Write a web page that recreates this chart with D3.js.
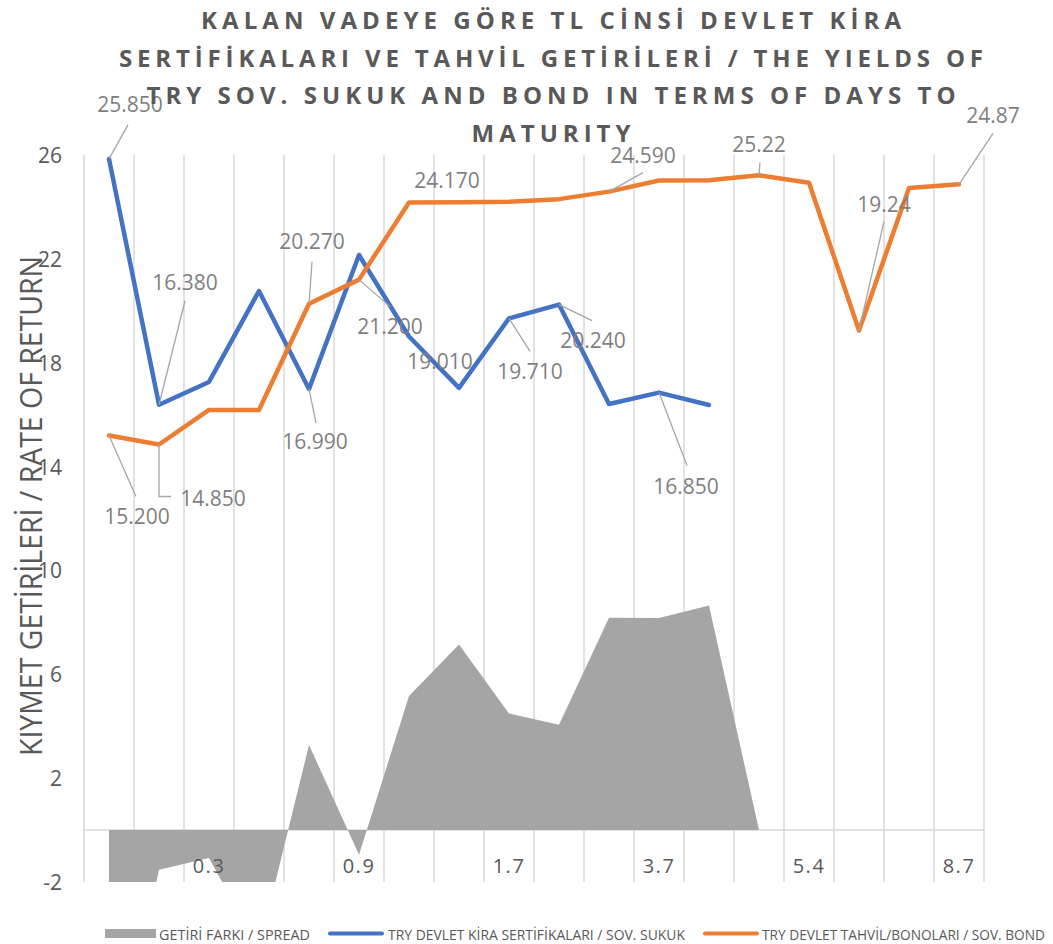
<!DOCTYPE html>
<html><head><meta charset="utf-8">
<script src="https://cdn.jsdelivr.net/npm/d3@7"></script>
<style>body{margin:0;background:#fff} svg{display:block;font-family:"Open Sans","Noto Sans",sans-serif}</style>
</head><body><svg id="c" width="1053" height="944"></svg>
<script>
// ---------- data ----------
const categories = ["0.1","0.2","0.3","0.4","0.6","0.9","1.1","1.4","1.7","2.3","2.9","3.7","4.1","4.8","5.4","6.5","7.6","8.7"];
const sukuk = [25.85,16.38,17.26,20.76,16.99,22.15,19.01,17.03,19.71,20.24,16.41,16.85,16.37,null,null,null,null,null];
const bond = [15.20,14.85,16.18,16.18,20.27,21.20,24.17,24.18,24.20,24.30,24.59,25.02,25.03,25.22,24.93,19.24,24.73,24.87];
const spread = [-10.65,-1.53,-1.08,-4.58,3.28,-0.95,5.16,7.15,4.49,4.06,8.18,8.17,8.65,0];
const yTicks = [-2,2,6,10,14,18,22,26];
const titleLines = ["KALAN VADEYE GÖRE TL CİNSİ DEVLET KİRA","SERTİFİKALARI VE TAHVİL GETİRİLERİ / THE YIELDS OF","TRY SOV. SUKUK AND BOND IN TERMS OF DAYS TO","MATURITY"];
const yTitle = "KIYMET GETİRİLERİ / RATE OF RETURN";
const legendLabels = ["GETİRİ FARKI / SPREAD","TRY DEVLET KİRA SERTİFİKALARI / SOV. SUKUK","TRY DEVLET TAHVİL/BONOLARI / SOV. BOND"];
// which points carry data labels (index, decimals)
const sukukLabelIdx = [0,1,4,6,8,9,11];
const sukukLabelDec = [3,3,3,3,3,3,3];
const bondLabelIdx = [0,1,4,5,6,10,13,15,17];
const bondLabelDec = [3,3,3,3,3,3,2,2,2];

// ---------- layout / style ----------
const plot={l:84,r:984,t:155,b:882};
const colors={sukuk:"#4472C4",bond:"#ED7D31",spread:"#A5A5A5",grid:"#D9D9D9",text:"#595959",label:"#7F7F7F",leader:"#A6A6A6"};
// label offsets relative to point: [dx,dy (label center), leader end dx,dy, elbow?]
const sukukLabelPos = [[21,-54,19,-34],[26,-122,26,-104],[6,53,7,34],[31,25,null,null],[21,53,21,33],[34,36,33,16],[27,94,28,73]];
const bondLabelPos = [[28,81,27,61],[54,54,12,52,"elbow"],[3,-62,3,-42],[31,47,31,27],[38,-22,null,null],[34,-36,34,-19],[0,-31,1,-13],[25,-126,25,-109],[34,-69,34,-51]];

const svg=d3.select("#c");
const x=d3.scaleBand().domain(d3.range(categories.length)).range([plot.l,plot.r]).padding(0);
const cx=i=>x(i)+x.bandwidth()/2;
const y=d3.scaleLinear().domain([-2,26]).range([plot.b,plot.t]);

svg.append("defs").append("clipPath").attr("id","clip").append("rect")
  .attr("x",plot.l).attr("y",plot.t).attr("width",plot.r-plot.l).attr("height",plot.b-plot.t);

// vertical gridlines at band boundaries
const bounds=d3.range(categories.length).map(i=>x(i)).concat([x.range()[1]]);
svg.append("g").selectAll("line").data(bounds).join("line")
  .attr("x1",d=>d).attr("x2",d=>d).attr("y1",plot.t).attr("y2",plot.b)
  .attr("stroke",colors.grid).attr("stroke-width",1.5);

// zero axis line
svg.append("line").attr("x1",plot.l).attr("x2",plot.r).attr("y1",y(0)).attr("y2",y(0))
  .attr("stroke",colors.grid).attr("stroke-width",1.5);

// spread area
const area=d3.area().x((d,i)=>cx(i)).y0(y(0)).y1(d=>y(d));
svg.append("path").datum(spread).attr("clip-path","url(#clip)")
  .attr("d",area).attr("fill",colors.spread);

// lines
const line=d3.line().defined(d=>d!=null).x((d,i)=>cx(i)).y(d=>y(d));
[["sukuk",sukuk],["bond",bond]].forEach(([k,arr])=>{
  svg.append("path").datum(arr).attr("d",line).attr("fill","none")
    .attr("stroke",colors[k]).attr("stroke-width",4.5)
    .attr("stroke-linejoin","round").attr("stroke-linecap","round");
});

// x axis labels
const xAxis=d3.axisBottom(x).tickSize(0).tickFormat(i=> i%3===2?categories[i]:"");
const gx=svg.append("g").attr("transform",`translate(0,${y(0)})`).call(xAxis);
gx.select(".domain").remove();
gx.selectAll("text").attr("y",43).attr("dy",0).attr("font-size",20).attr("letter-spacing",1.5)
  .attr("fill",colors.text).attr("font-family","'Open Sans',sans-serif");

// y axis labels
const yAxis=d3.axisLeft(y).tickValues(yTicks).tickSize(0).tickPadding(22).tickFormat(d=>String(d));
const gy=svg.append("g").attr("transform",`translate(${plot.l},0)`).call(yAxis);
gy.select(".domain").remove();
gy.selectAll("text").attr("font-size",21).attr("fill",colors.text).attr("font-family","'Open Sans',sans-serif").attr("dy","0.36em");

// data labels
function drawLabels(arr,idx,dec,pos){
  const g=svg.append("g");
  idx.forEach((i,k)=>{
    const px=cx(i),py=y(arr[i]);const p=pos[k];
    if(p[2]!=null){
      if(p[4]==="elbow"){
        g.append("polyline").attr("points",`${px},${py} ${px},${py+p[3]} ${px+p[2]},${py+p[3]}`)
          .attr("fill","none").attr("stroke",colors.leader).attr("stroke-width",1.3);
      } else {
        g.append("line").attr("x1",px).attr("y1",py).attr("x2",px+p[2]).attr("y2",py+p[3])
          .attr("stroke",colors.leader).attr("stroke-width",1.3);
      }
    }
    g.append("text").attr("x",px+p[0]).attr("y",py+p[1]).attr("dy","0.36em")
      .attr("text-anchor","middle").attr("font-size",21).attr("fill",colors.label)
      .text(d3.format(`.${dec[k]}f`)(arr[i]));
  });
}
drawLabels(sukuk,sukukLabelIdx,sukukLabelDec,sukukLabelPos);
drawLabels(bond,bondLabelIdx,bondLabelDec,bondLabelPos);

// title
const titleW=[700,864,809,159];
svg.append("g").selectAll("text").data(titleLines).join("text")
  .attr("x",551).attr("y",(d,i)=>29+i*37.5).attr("text-anchor","middle")
  .attr("font-size",24).attr("font-weight","bold").attr("fill",colors.text)
  .attr("textLength",(d,i)=>titleW[i]).attr("lengthAdjust","spacing").text(d=>d);

// y title
svg.append("text").attr("transform","translate(42,506) rotate(-90)")
  .attr("text-anchor","middle").attr("font-size",31).attr("fill",colors.text)
  .attr("textLength",500).attr("lengthAdjust","spacingAndGlyphs").text(yTitle);

// legend
const lg=svg.append("g").attr("font-size",15).attr("fill",colors.text);
lg.append("rect").attr("x",105).attr("y",929).attr("width",51).attr("height",9).attr("fill",colors.spread);
lg.append("text").attr("x",159).attr("y",939.5).attr("textLength",151).attr("lengthAdjust","spacingAndGlyphs").text(legendLabels[0]);
lg.append("line").attr("x1",330).attr("x2",382).attr("y1",933.5).attr("y2",933.5).attr("stroke",colors.sukuk).attr("stroke-width",4).attr("stroke-linecap","round");
lg.append("text").attr("x",388).attr("y",939.5).attr("textLength",297).attr("lengthAdjust","spacingAndGlyphs").text(legendLabels[1]);
lg.append("line").attr("x1",705).attr("x2",757).attr("y1",933.5).attr("y2",933.5).attr("stroke",colors.bond).attr("stroke-width",4).attr("stroke-linecap","round");
lg.append("text").attr("x",762).attr("y",939.5).attr("textLength",283).attr("lengthAdjust","spacingAndGlyphs").text(legendLabels[2]);
</script></body></html>
